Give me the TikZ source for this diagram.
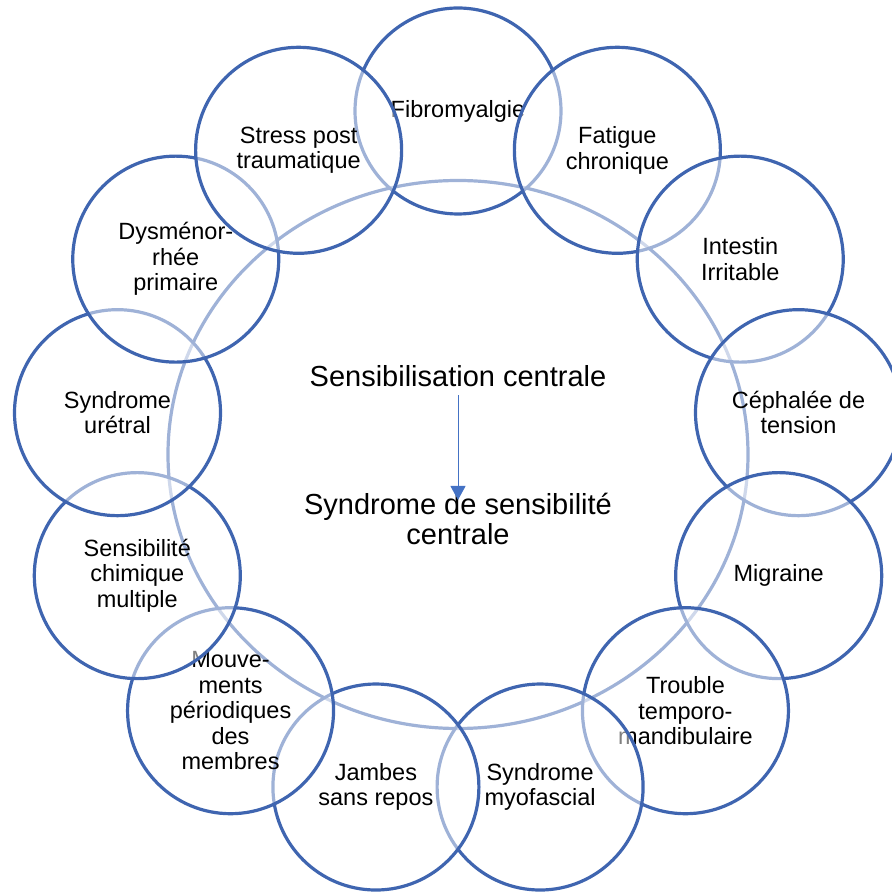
\documentclass[tikz,border=0pt]{standalone}
\usepackage{fontspec}
\setmainfont{Liberation Sans}
\usetikzlibrary{arrows.meta}
\usetikzlibrary{positioning}
\definecolor{ringblue}{RGB}{63,101,176}
\definecolor{arrowblue}{RGB}{68,114,196}
\tikzstyle{disease}=[circle,draw=ringblue,line width=3.2pt,fill=white,fill opacity=0.5,text opacity=1,minimum size=206pt,inner sep=0pt,align=center,font=\fontsize{23.5}{25.4}\selectfont]
\tikzstyle{bigring}=[draw=ringblue,line width=3.2pt]
\tikzstyle{centretext}=[inner sep=0pt,align=center,font=\fontsize{29}{30}\selectfont]
\tikzstyle{link}=[draw=arrowblue,line width=1pt,-{Triangle[length=14pt,width=15pt]}]

\begin{document}
\begin{tikzpicture}[x=1pt,y=1pt]
    \useasboundingbox (0,0) rectangle (892,892);
    \clip (0,0) rectangle (892,892);
    % the large ring behind everything
    \coordinate (ring) at (458,438);
    \path[bigring] (458,437.5) ellipse [x radius=290, y radius=274];

    % Then the thirteen syndromes, clockwise from the top
    \foreach \ang/\name/\label in {{90/fibro/Fibromyalgie}, {62.31/fatigue/{Fatigue\\chronique}}, {34.62/intestin/{Intestin\\Irritable}}, {6.92/cephalee/{Céphalée de\\tension}}, {-20.77/migraine/Migraine}, {-48.46/trouble/{Trouble\\temporo-\\mandibulaire}}, {-76.15/myofascial/{Syndrome\\myofascial}}, {-103.85/jambes/{Jambes\\sans repos}}, {-131.54/mouvements/{Mouve-\\ments\\périodiques\\des\\membres}}, {-159.23/chimique/{Sensibilité\\chimique\\multiple}}, {-186.92/uretral/{Syndrome\\urétral}}, {-214.62/dysmeno/{Dysménor-\\rhée\\primaire}}, {-242.31/stress/{Stress post\\traumatique}}}
        \node[disease] (\name) at ([shift={(\ang:343)}]ring) {\label};

    % Middle text and the arrow between
    \node[centretext] (sensib) at (458,515.5) {Sensibilisation centrale};
    \node[centretext] (syndrome) at (458,373) {Syndrome de sensibilité\\centrale};
    \path[link,shorten <=8pt,shorten >=-7pt] (sensib.south) -- (syndrome.north);
\end{tikzpicture}
\end{document}
